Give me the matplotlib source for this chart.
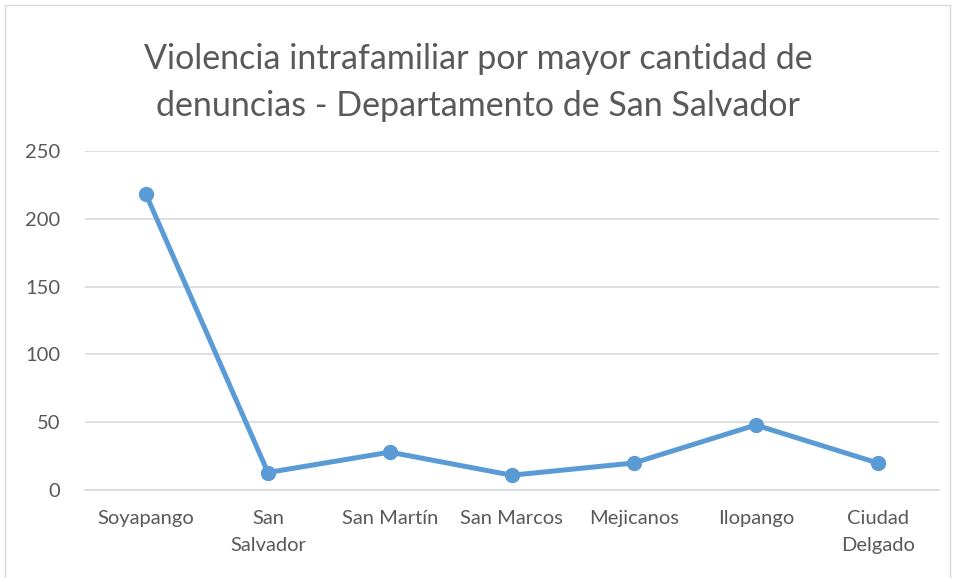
import matplotlib.pyplot as plt
from matplotlib.patches import Rectangle

plt.rcParams['font.family'] = ['Lato', 'DejaVu Sans']

# Data
municipios = ['Soyapango', 'San\nSalvador', 'San Martín', 'San Marcos',
              'Mejicanos', 'Ilopango', 'Ciudad\nDelgado']
denuncias = [218, 13, 28, 11, 20, 48, 20]
y_ticks = [0, 50, 100, 150, 200, 250]

text_color = '#595959'
grid_color = '#D9D9D9'
line_color = '#5B9BD5'

fig = plt.figure(figsize=(9.56, 5.78), dpi=100)
ax = fig.add_axes([0.0889, 0.152, 0.893, 0.587])

x = range(len(municipios))
ax.plot(x, denuncias, color=line_color, linewidth=3.6, marker='o',
        markersize=10, solid_capstyle='round', zorder=3)

ax.set_xlim(-0.5, len(municipios) - 0.5)
ax.set_ylim(0, 250)
ax.set_yticks(y_ticks)
ax.set_xticks(list(x))
ax.set_xticklabels(municipios, fontsize=14.5, color=text_color, linespacing=1.75)
ax.tick_params(axis='y', labelsize=14.5, labelcolor=text_color, length=0, pad=18)
ax.tick_params(axis='x', length=0, pad=14)

ax.grid(axis='y', color=grid_color, linewidth=1.2)
ax.set_axisbelow(True)
for side in ['left', 'right', 'top']:
    ax.spines[side].set_visible(False)
ax.spines['bottom'].set_color(grid_color)
ax.spines['bottom'].set_linewidth(1.2)

fig.text(0.5, 0.857, 'Violencia intrafamiliar por mayor cantidad de\ndenuncias - Departamento de San Salvador',
         ha='center', va='center', fontsize=24.5, color=text_color, linespacing=1.6)

# thin chart border
fig.patches.append(Rectangle((5 / 956, -0.01), 945 / 956, 1 - 5 / 578 + 0.01,
                             transform=fig.transFigure, fill=False,
                             edgecolor='#D9D9D9', linewidth=1))

plt.savefig('out.png', dpi=100)
